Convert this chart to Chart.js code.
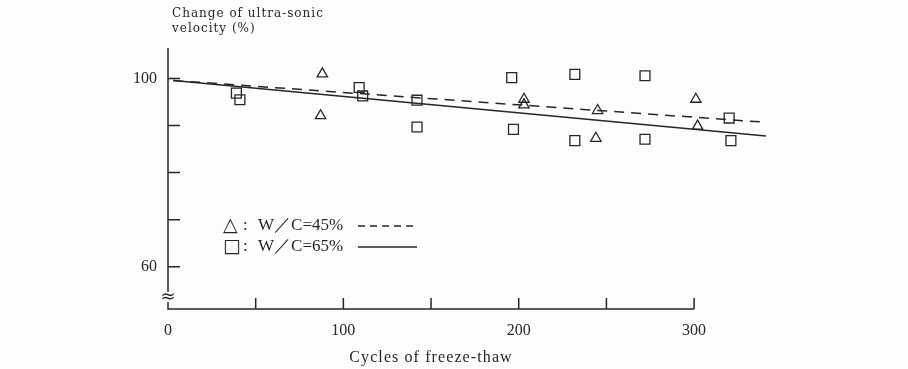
<!DOCTYPE html>
<html>
<head>
<meta charset="utf-8">
<script src="https://cdn.jsdelivr.net/npm/chart.js@4.4.1/dist/chart.umd.min.js"></script>
<style>
  html, body { margin: 0; padding: 0; background: #fdfdfd; }
</style>
</head>
<body>
<canvas id="chart" width="908" height="369"></canvas>
<script>
// Ultra-sonic velocity vs freeze-thaw cycles, two W/C ratios

const cycles45 = [88, 87, 203, 203, 245, 244, 301, 302];
const velocity45 = [101.0, 92.1, 95.6, 94.4, 93.2, 87.3, 95.6, 89.9];

const cycles65 = [39, 41, 109, 111, 142, 142, 196, 197, 232, 232, 272, 272, 320, 321];
const velocity65 = [96.9, 95.5, 98.1, 96.3, 95.4, 89.7, 100.2, 89.2, 100.9, 86.8, 100.6, 87.1, 91.6, 86.8];

// regression lines (end points)
const trendCycles = [3, 341];
const trend45 = [99.6, 90.7];
const trend65 = [99.6, 87.8];

const xTicks = [0, 50, 100, 150, 200, 250, 300];
const xLabeled = [0, 100, 200, 300];
const yTicks = [60, 70, 80, 90, 100];
const yLabeled = [60, 100];

const yTitle = ['Change of ultra-sonic', 'velocity (%)'];
const xTitle = 'Cycles of freeze-thaw';
const legendItems = [
    { mark: '△', text: 'W／C=45%', dash: [7, 5] },
    { mark: '□', text: 'W／C=65%', dash: [] },
];

const INK = '#262626';
const SERIF = '"Liberation Serif", "DejaVu Serif", serif';

const toPoints = (xs, ys) => xs.map((v, i) => ({ x: v, y: ys[i] }));

/**
 * Draws the hand-made frame: axis lines, inner tick marks, axis break,
 * titles and the in-plot legend.
 */
const framePlugin = {
    id: 'frame',
    afterDraw(chart) {
        const { ctx, scales: { x, y } } = chart;
        const x0 = x.getPixelForValue(0);
        const xEnd = x.getPixelForValue(300);
        const yBottom = y.bottom;

        ctx.save();
        ctx.strokeStyle = INK;
        ctx.lineWidth = 1.5;
        ctx.beginPath();
        ctx.moveTo(x0, y.top);
        ctx.lineTo(x0, yBottom);
        ctx.lineTo(xEnd, yBottom);
        yTicks.forEach(v => {
            const py = y.getPixelForValue(v);
            ctx.moveTo(x0, py);
            ctx.lineTo(x0 + 12, py);
        });
        xTicks.slice(1).forEach(v => {
            const px = x.getPixelForValue(v);
            ctx.moveTo(px, yBottom);
            ctx.lineTo(px, yBottom - 11);
        });
        ctx.stroke();

        // axis break
        ctx.fillStyle = '#fdfdfd';
        ctx.fillRect(x0 - 2, 292, 4, 10);
        ctx.fillStyle = INK;
        ctx.font = '18px "DejaVu Sans"';
        ctx.textAlign = 'center';
        ctx.textBaseline = 'middle';
        ctx.fillText('≈', x0, 297);

        // y title (top left)
        ctx.textAlign = 'left';
        ctx.textBaseline = 'alphabetic';
        ctx.font = '12px "DejaVu Serif"';
        ctx.letterSpacing = '1px';
        ctx.fillText(yTitle[0], 172, 17);
        ctx.fillText(yTitle[1], 172, 32);

        // x title
        ctx.font = '16px ' + SERIF;
        ctx.letterSpacing = '1.1px';
        ctx.textAlign = 'center';
        ctx.fillText(xTitle, 431, 362);

        // legend
        ctx.letterSpacing = '0px';
        ctx.textAlign = 'left';
        ctx.textBaseline = 'middle';
        legendItems.forEach((item, i) => {
            const ly = 226 + i * 21;
            ctx.font = '19px "DejaVu Sans"';
            ctx.fillText(item.mark, 223, ly);
            ctx.font = '17px ' + SERIF;
            ctx.fillText(':', 243, ly);
            ctx.fillText(item.text, 258, ly);
            ctx.beginPath();
            ctx.setLineDash(item.dash);
            ctx.lineWidth = 1.5;
            ctx.moveTo(358, ly);
            ctx.lineTo(417, ly);
            ctx.stroke();
        });
        ctx.restore();
    },
};

new Chart(document.getElementById('chart'), {
    type: 'scatter',
    data: {
        datasets: [
            {
                label: 'W/C=45%',
                data: toPoints(cycles45, velocity45),
                pointStyle: 'triangle',
                pointRadius: 6,
                borderColor: INK,
                backgroundColor: 'rgba(0,0,0,0)',
                borderWidth: 1.3,
            },
            {
                label: 'W/C=65%',
                data: toPoints(cycles65, velocity65),
                pointStyle: 'rect',
                pointRadius: 7,
                borderColor: INK,
                backgroundColor: 'rgba(0,0,0,0)',
                borderWidth: 1.3,
            },
            {
                label: 'trend 45%',
                data: toPoints(trendCycles, trend45),
                showLine: true,
                borderColor: INK,
                borderWidth: 1.5,
                borderDash: [10, 7],
                pointRadius: 0,
            },
            {
                label: 'trend 65%',
                data: toPoints(trendCycles, trend65),
                showLine: true,
                borderColor: INK,
                borderWidth: 1.6,
                pointRadius: 0,
            },
        ],
    },
    options: {
        responsive: false,
        animation: false,
        layout: {
            padding: { top: 48, right: 135, bottom: 0, left: 0 },
        },
        plugins: {
            legend: { display: false },
            tooltip: { enabled: false },
        },
        scales: {
            x: {
                type: 'linear',
                min: 0,
                max: 345,
                afterFit: s => { s.height = 60; },
                afterBuildTicks: s => { s.ticks = xTicks.map(v => ({ value: v })); },
                grid: { display: false, drawTicks: false },
                border: { display: false },
                ticks: {
                    padding: 12,
                    color: INK,
                    font: { family: SERIF, size: 16 },
                    autoSkip: false,
                    maxRotation: 0,
                    callback: v => (xLabeled.includes(v) ? String(v) : ''),
                },
            },
            y: {
                min: 51,
                max: 106.5,
                afterFit: s => { s.width = 168; },
                afterBuildTicks: s => { s.ticks = yTicks.map(v => ({ value: v })); },
                grid: { display: false, drawTicks: false },
                border: { display: false },
                ticks: {
                    padding: 11,
                    color: INK,
                    font: { family: SERIF, size: 16 },
                    autoSkip: false,
                    callback: v => (yLabeled.includes(v) ? String(v) : ''),
                },
            },
        },
    },
    plugins: [framePlugin],
});
</script>
</body>
</html>
